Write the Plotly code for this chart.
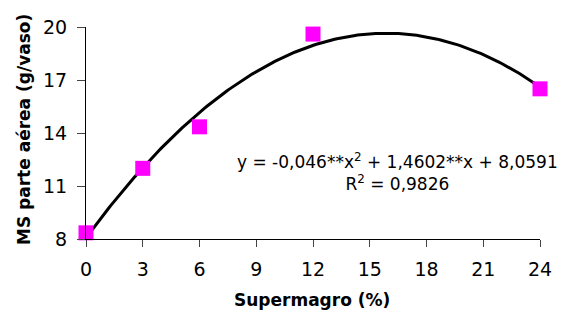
import numpy as np
import plotly.graph_objects as go

# Data
supermagro = [0, 3, 6, 12, 24]
ms_parte_aerea = [8.35, 12.0, 14.35, 19.6, 16.5]
trend_coef = [-0.046, 1.4602, 8.0591]  # quadratic trendline coefficients shown on chart
x_ticks = [0, 3, 6, 9, 12, 15, 18, 21, 24]
y_ticks = [8, 11, 14, 17, 20]
equation_text = "y = -0,046**x<sup>2</sup> + 1,4602**x + 8,0591<br>R<sup>2</sup> = 0,9826"

FONT = "DejaVu Sans, Liberation Sans, Arial, sans-serif"

xs = np.linspace(min(supermagro), max(supermagro), 200)
ys = np.polyval(trend_coef, xs)

fig = go.Figure()
fig.add_trace(go.Scatter(
    x=xs, y=ys, mode="lines",
    line=dict(color="black", width=3),
    hoverinfo="skip", cliponaxis=False,
))
fig.add_trace(go.Scatter(
    x=supermagro, y=ms_parte_aerea, mode="markers",
    marker=dict(symbol="square", size=15, color="#FF00FF", line=dict(width=0)),
    cliponaxis=False,
))

fig.update_layout(
    width=567, height=320,
    margin=dict(l=86, r=27, t=27, b=81),
    paper_bgcolor="white", plot_bgcolor="white",
    showlegend=False,
    font=dict(family=FONT, size=18, color="black"),
    xaxis=dict(
        range=[0, 24], tickvals=x_ticks, ticktext=[str(v) for v in x_ticks],
        showgrid=False, zeroline=False, showline=True, linecolor="black", linewidth=1,
        ticks="outside", ticklen=7, tickcolor="#444", tickwidth=1,
        tickfont=dict(family=FONT, size=19), ticklabelstandoff=6,
    ),
    yaxis=dict(
        range=[8, 20], tickvals=y_ticks, ticktext=[str(v) for v in y_ticks],
        showgrid=False, zeroline=False, showline=True, linecolor="black", linewidth=1,
        ticks="outside", ticklen=8, tickcolor="#444", tickwidth=1,
        tickfont=dict(family=FONT, size=19), ticklabelstandoff=6,
    ),
    annotations=[
        dict(text="<b>Supermagro (%)</b>", xref="paper", yref="paper",
             x=(312 - 86) / 454, y=-(300 - 239) / 212, showarrow=False,
             font=dict(family=FONT, size=17), xanchor="center", yanchor="middle"),
        dict(text="<b>MS parte aérea (g/vaso)</b>", xref="paper", yref="paper",
             x=-(86 - 24) / 454, y=(239 - 130) / 212, showarrow=False, textangle=-90,
             font=dict(family=FONT, size=17), xanchor="center", yanchor="middle"),
        dict(text=equation_text, xref="paper", yref="paper",
             x=(397 - 86) / 454, y=(239 - 171.5) / 212, showarrow=False,
             font=dict(family=FONT, size=17), xanchor="center", yanchor="middle",
             align="center"),
    ],
)

fig.write_html("out.html")
